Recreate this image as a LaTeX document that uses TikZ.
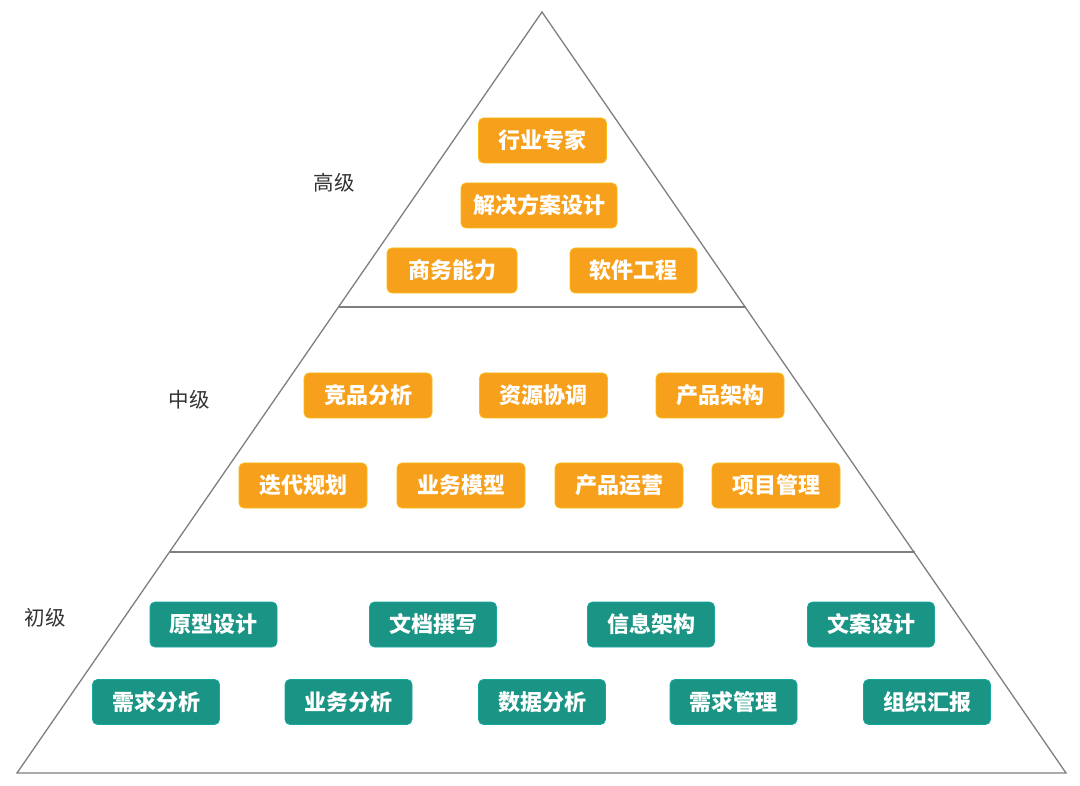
\documentclass[tikz,border=0pt]{standalone}
\usepackage{fontspec}
\newfontfamily\cjk{Noto Sans CJK SC}
\definecolor{orng}{HTML}{F7A01B}
\definecolor{teal2}{HTML}{1A9484}
\definecolor{linegray}{HTML}{7F7F7F}
\definecolor{labgray}{HTML}{333333}
\tikzset{
  obox/.style={fill=orng, draw=orng!70!yellow, line width=0.8pt, rounded corners=5pt, minimum width=128pt, minimum height=45pt, inner sep=0pt, text=white, font=\cjk\bfseries\fontsize{22}{24}\selectfont},
  tbox/.style={fill=teal2, draw=teal2!80!cyan, line width=0.8pt, rounded corners=5pt, minimum width=127pt, minimum height=45pt, inner sep=0pt, text=white, font=\cjk\bfseries\fontsize{22}{24}\selectfont},
  lvl/.style={text=labgray, font=\cjk\fontsize{20.5}{22}\selectfont, inner sep=0pt},
  edge/.style={draw=linegray, line width=1.3pt}
}
\begin{document}
\begin{tikzpicture}[x=1pt,y=-1pt]
\useasboundingbox[fill=white] (0,0) rectangle (1080,786);
% pyramid
\coordinate (apex) at (542,12);
\coordinate (bl) at (17,773);
\coordinate (br) at (1066,773);
\coordinate (l1) at (338.5,307);
\coordinate (r1) at (745.5,307);
\coordinate (l2) at (169.5,552);
\coordinate (r2) at (914.5,552);
\draw[edge, line join=miter] (apex) -- (br) -- (bl) -- cycle;
\draw[edge] (l1) -- (r1);
\draw[edge] (l2) -- (r2);
% level labels
\node[lvl] (gao) at (334,183) {高级};
\node[lvl] (zhong) at (189,400) {中级};
\node[lvl] (chu) at (45,618) {初级};
% top
\node[obox] (a1) at (542.5,140.5) {行业专家};
\node[obox, minimum width=156pt] (a2) at (539,205.5) {解决方案设计};
\node[obox, minimum width=130pt] (a3) at (452,270.5) {商务能力};
\node[obox, minimum width=127pt] (a4) at (633.5,270.5) {软件工程};
% middle
\node[obox] (b1) at (368,395.5) {竞品分析};
\node[obox] (b2) at (543.5,395.5) {资源协调};
\node[obox] (b3) at (720,395.5) {产品架构};
\node[obox] (b4) at (303,485.5) {迭代规划};
\node[obox] (b5) at (461,485.5) {业务模型};
\node[obox] (b6) at (619,485.5) {产品运营};
\node[obox] (b7) at (776,485.5) {项目管理};
% bottom
\node[tbox] (c1) at (213.5,624.5) {原型设计};
\node[tbox] (c2) at (433,624.5) {文档撰写};
\node[tbox] (c3) at (651,624.5) {信息架构};
\node[tbox] (c4) at (871,624.5) {文案设计};
\node[tbox] (c5) at (156,702) {需求分析};
\node[tbox] (c6) at (348.5,702) {业务分析};
\node[tbox] (c7) at (542,702) {数据分析};
\node[tbox] (c8) at (733.5,702) {需求管理};
\node[tbox] (c9) at (927,702) {组织汇报};
\end{tikzpicture}
\end{document}
